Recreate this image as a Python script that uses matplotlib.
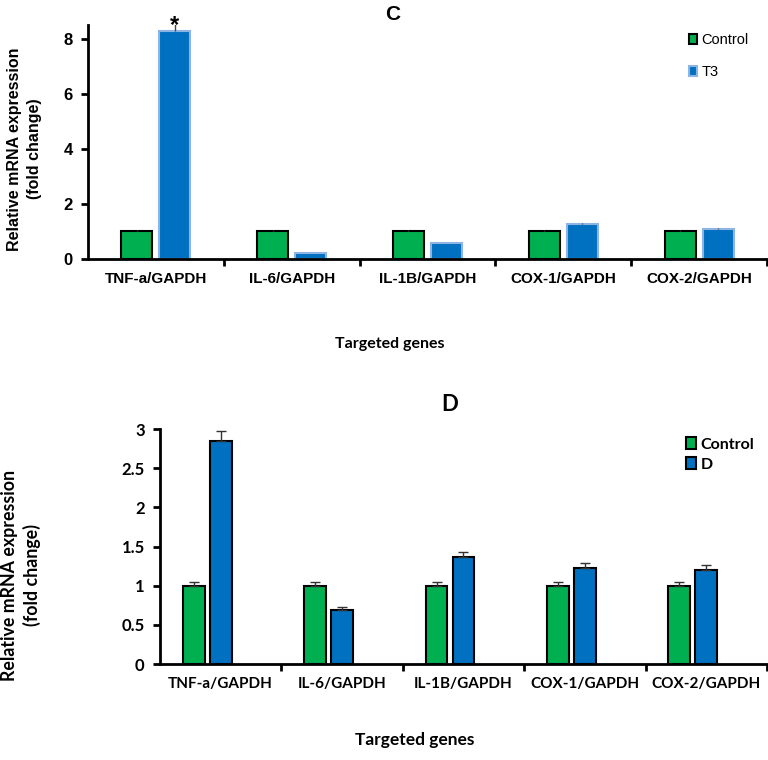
import numpy as np
import matplotlib
matplotlib.use("Agg")
import matplotlib.pyplot as plt
from matplotlib.ticker import FixedLocator

# Daten
genes = ["TNF-a/GAPDH", "IL-6/GAPDH", "IL-1B/GAPDH", "COX-1/GAPDH", "COX-2/GAPDH"]

ctrl_c = [1.03, 1.03, 1.03, 1.03, 1.03]
ctrl_c_err = [0.01, 0.01, 0.01, 0.01, 0.01]
t3_c = [8.30, 0.22, 0.57, 1.29, 1.10]
t3_c_err = [0.28, 0.01, 0.01, 0.03, 0.02]

ctrl_d = [1.00, 1.00, 1.00, 1.00, 1.00]
ctrl_d_err = [0.05, 0.05, 0.05, 0.05, 0.05]
d_d = [2.85, 0.69, 1.37, 1.22, 1.20]
d_d_err = [0.13, 0.035, 0.06, 0.065, 0.06]

green = "#00B050"
blue = "#0070C0"

fig = plt.figure(figsize=(7.68, 7.6), dpi=100)
x = np.arange(len(genes))


def style_axes(ax, font, size):
    for s in ["top", "right"]:
        ax.spines[s].set_visible(False)
    ax.spines["left"].set_linewidth(2)
    ax.spines["bottom"].set_linewidth(2)
    ax.set_xlim(-0.5, 4.5)
    ax.set_xticks(x)
    ax.set_xticklabels(genes, fontsize=size, fontweight="bold", family=font)
    ax.tick_params(axis="x", which="major", length=0, pad=9)
    ax.xaxis.set_minor_locator(FixedLocator([0.5, 1.5, 2.5, 3.5, 4.5]))
    ax.tick_params(axis="x", which="minor", length=5, width=2, direction="out")
    ax.tick_params(axis="y", length=5, width=2, direction="out", pad=6)
    for lab in ax.get_yticklabels():
        lab.set_fontweight("bold")
        lab.set_family(font)
        lab.set_fontsize(size + 1)


def up(err):
    return [np.zeros(len(err)), err]


# Panel C
ax1 = fig.add_axes([0.1146, 0.6592, 0.8841, 0.3078])
w = 0.228
ax1.bar(x - 0.14, ctrl_c, w, color=green, edgecolor="black", linewidth=1.5,
        yerr=up(ctrl_c_err), error_kw=dict(ecolor="#444444", elinewidth=1, capsize=0),
        label="Control")
ax1.bar(x + 0.14, t3_c, w, color=blue, edgecolor="#8DB4E2", linewidth=1.5,
        yerr=up(t3_c_err), error_kw=dict(ecolor="#444444", elinewidth=1, capsize=0),
        label="T3")
ax1.set_ylim(0, 8.5)
ax1.set_yticks([0, 2, 4, 6, 8])
style_axes(ax1, "Liberation Sans", 11)
ax1.text(x[0] + 0.14, t3_c[0] + t3_c_err[0] - 0.5, "*", ha="center", va="bottom",
         fontsize=17, fontweight="bold", family="Liberation Sans")
fig.text(0.032, 0.804, "Relative mRNA expression\n(fold change)", rotation=90,
         ha="center", va="center", fontsize=11.5, fontweight="bold",
         family="Liberation Sans", linespacing=1.45)
ax1.text(0.449, 1.045, "C", transform=ax1.transAxes, ha="center", va="center",
         fontsize=15, fontweight="bold", family="Liberation Sans")
ax1.set_xlabel("Targeted genes", fontsize=11.5, fontweight="bold", family="Lato")
ax1.xaxis.set_label_coords(0.445, -0.335)
ax1.legend(loc="upper left", bbox_to_anchor=(0.885, 0.965), frameon=False,
           prop=dict(family="Liberation Sans", size=10.5), handlelength=0.55,
           handleheight=0.7, handletextpad=0.3, labelspacing=1.25,
           borderpad=0, borderaxespad=0)

# Panel D
ax2 = fig.add_axes([0.2083, 0.1263, 0.7904, 0.3092])
w = 0.18
ax2.bar(x - 0.222, ctrl_d, w, color=green, edgecolor="black", linewidth=1.5,
        yerr=up(ctrl_d_err), error_kw=dict(ecolor="#333333", elinewidth=1, capsize=3.5),
        label="Control")
ax2.bar(x, d_d, w, color=blue, edgecolor="black", linewidth=1.5,
        yerr=up(d_d_err), error_kw=dict(ecolor="#333333", elinewidth=1, capsize=3.5),
        label="D")
ax2.set_ylim(0, 3)
ax2.set_yticks([0, 0.5, 1, 1.5, 2, 2.5, 3])
ax2.set_yticklabels(["0", "0.5", "1", "1.5", "2", "2.5", "3"])
style_axes(ax2, "Lato", 11)
fig.text(0.027, 0.243, "Relative mRNA expression\n(fold change)", rotation=90,
         ha="center", va="center", fontsize=12.8, fontweight="bold", family="Lato",
         linespacing=1.35)
ax2.text(0.478, 1.105, "D", transform=ax2.transAxes, ha="center", va="center",
         fontsize=16, fontweight="bold", family="Lato")
fig.text(0.54, 0.026, "Targeted genes", ha="center", va="center", fontsize=12.5,
         fontweight="bold", family="Lato")
ax2.legend(loc="upper left", bbox_to_anchor=(0.866, 0.965), frameon=False,
           prop=dict(family="Lato", size=11.5, weight="bold"), handlelength=0.65,
           handleheight=0.75, handletextpad=0.3, labelspacing=0.35,
           borderpad=0, borderaxespad=0)

fig.savefig("out.png", dpi=100)
